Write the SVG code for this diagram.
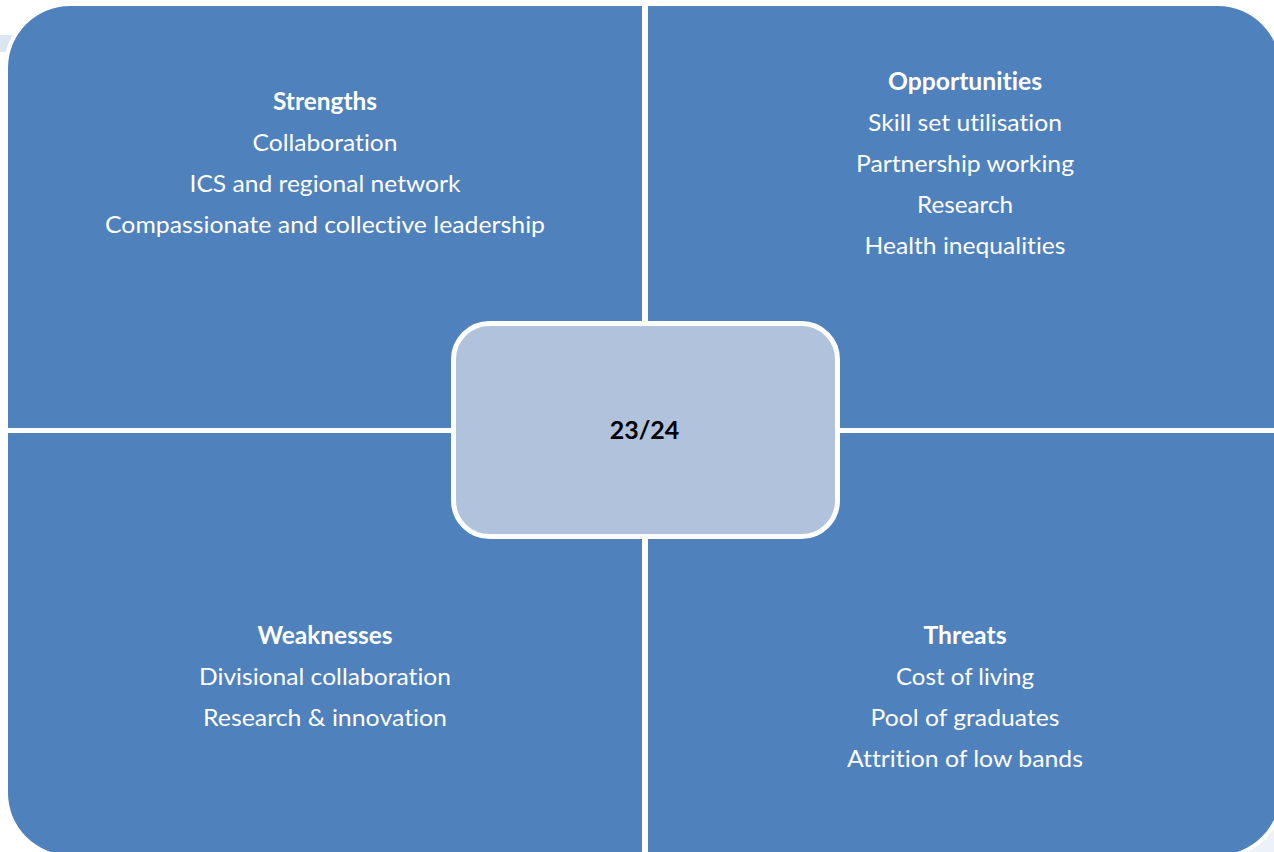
<svg xmlns="http://www.w3.org/2000/svg" width="1274" height="852" viewBox="0 0 1274 852">
  <style>
    text { font-family: Lato, "Open Sans", "Liberation Sans", sans-serif; font-variant-ligatures: none; text-anchor: middle; }
    .quad { fill: #4f81bd; }
    .head { font-size: 24px; font-weight: bold; fill: #ffffff; }
    .item { font-size: 24px; fill: #ffffff; }
    .hub { fill: #b0c2dc; stroke: #ffffff; stroke-width: 5; }
    .hub-label { font-size: 25px; font-weight: bold; fill: #000000; }
  </style>

  <rect width="1274" height="852" fill="#ffffff"/>

  <!-- faint backdrop shapes peeking out at the corners -->
  <g id="backdrop">
    <polygon points="0,35 14,35 7,52 0,52" fill="#dce6f2"/>
    <rect x="1228" y="828" width="46" height="24" fill="#edf2f9"/>
  </g>

  <!-- white halo around the rounded outer panel -->
  <rect x="8" y="6" width="1272" height="849" rx="62" ry="62" fill="none" stroke="#ffffff" stroke-width="8"/>

  <g id="strengths">
    <path class="quad" d="M8,68 A62,62 0 0 1 70,6 H642 V428 H8 Z"/>
    <text class="head" x="325" y="110" textLength="104" lengthAdjust="spacingAndGlyphs">Strengths</text>
    <text class="item" x="325" y="151" textLength="145" lengthAdjust="spacingAndGlyphs">Collaboration</text>
    <text class="item" x="325" y="192" textLength="271" lengthAdjust="spacingAndGlyphs">ICS and regional network</text>
    <text class="item" x="325" y="233" textLength="440" lengthAdjust="spacingAndGlyphs">Compassionate and collective leadership</text>
  </g>

  <g id="opportunities">
    <path class="quad" d="M648,6 H1218 A62,62 0 0 1 1280,68 V428 H648 Z"/>
    <text class="head" x="965" y="90" textLength="154" lengthAdjust="spacingAndGlyphs">Opportunities</text>
    <text class="item" x="965" y="131" textLength="194" lengthAdjust="spacingAndGlyphs">Skill set utilisation</text>
    <text class="item" x="965" y="172" textLength="218" lengthAdjust="spacingAndGlyphs">Partnership working</text>
    <text class="item" x="965" y="213" textLength="96" lengthAdjust="spacingAndGlyphs">Research</text>
    <text class="item" x="965" y="254" textLength="201" lengthAdjust="spacingAndGlyphs">Health inequalities</text>
  </g>

  <g id="weaknesses">
    <path class="quad" d="M8,433 H642 V855 H70 A62,62 0 0 1 8,793 Z"/>
    <text class="head" x="325" y="644" textLength="135" lengthAdjust="spacingAndGlyphs">Weaknesses</text>
    <text class="item" x="325" y="685" textLength="252" lengthAdjust="spacingAndGlyphs">Divisional collaboration</text>
    <text class="item" x="325" y="726" textLength="244" lengthAdjust="spacingAndGlyphs">Research &amp; innovation</text>
  </g>

  <g id="threats">
    <path class="quad" d="M648,433 H1280 V793 A62,62 0 0 1 1218,855 H648 Z"/>
    <text class="head" x="965" y="644" textLength="83" lengthAdjust="spacingAndGlyphs">Threats</text>
    <text class="item" x="965" y="685" textLength="138" lengthAdjust="spacingAndGlyphs">Cost of living</text>
    <text class="item" x="965" y="726" textLength="189" lengthAdjust="spacingAndGlyphs">Pool of graduates</text>
    <text class="item" x="965" y="767" textLength="236" lengthAdjust="spacingAndGlyphs">Attrition of low bands</text>
  </g>

  <g id="connectors"></g>

  <g id="year">
    <rect class="hub" x="453.5" y="323.5" width="384" height="213" rx="36" ry="36"/>
    <text class="hub-label" x="644.5" y="439">23/24</text>
  </g>
</svg>
